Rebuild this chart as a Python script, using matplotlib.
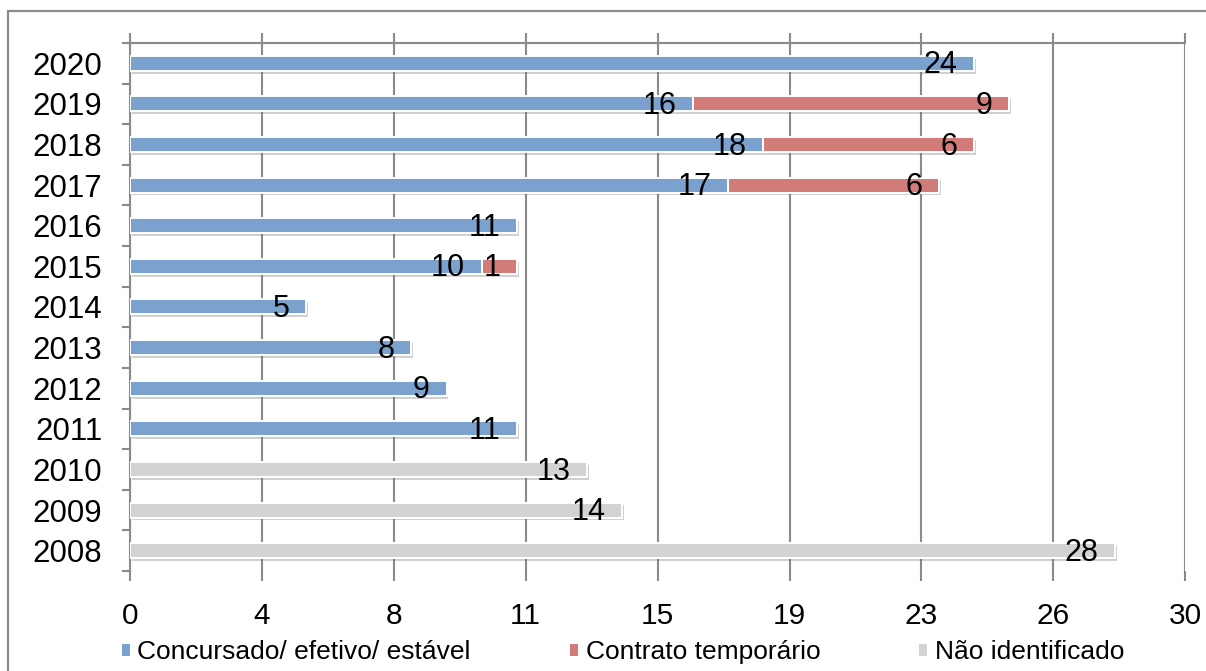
import matplotlib
matplotlib.use("Agg")
import matplotlib.pyplot as plt
import matplotlib.patheffects as pe
from matplotlib.patches import Rectangle, Patch
import numpy as np

plt.rcParams['font.family'] = ['Liberation Sans', 'DejaVu Sans']

years = ['2008', '2009', '2010', '2011', '2012', '2013', '2014',
         '2015', '2016', '2017', '2018', '2019', '2020']
concursado = [0, 0, 0, 11, 9, 8, 5, 10, 11, 17, 18, 16, 24]
temporario = [0, 0, 0, 0, 0, 0, 0, 1, 0, 6, 6, 9, 0]
nao_ident = [28, 14, 13, 0, 0, 0, 0, 0, 0, 0, 0, 0, 0]

series_names = ['Concursado/ efetivo/ estável', 'Contrato temporário', 'Não identificado']
colors = ['#7BA1CE', '#D27C79', '#D3D3D3']

xticks = [0, 3.75, 7.5, 11.25, 15, 18.75, 22.5, 26.25, 30]
xtick_labels = ['0', '4', '8', '11', '15', '19', '23', '26', '30']

grid_gray = '#8A8A8A'

fig = plt.figure(figsize=(12.06, 6.71), dpi=100)
ax = fig.add_axes([0.1078, 0.149, 0.875, 0.787])

# outer chart frame
fig.patches.append(Rectangle((0.0066, -0.01), 1.0, 0.9836 + 0.01,
                             transform=fig.transFigure, fill=False,
                             edgecolor='#8C8C8C', linewidth=1.6))

y = np.arange(len(years))
shadow = [pe.SimplePatchShadow(offset=(1.2, -2.0), shadow_rgbFace='#666666', alpha=0.3),
          pe.Normal()]

left = np.zeros(len(years))
for vals, color, name in zip([concursado, temporario, nao_ident], colors, series_names):
    vals = np.array(vals, dtype=float)
    bars = ax.barh(y, vals, left=left, height=0.37, color=color, edgecolor='white',
                   linewidth=1.4, zorder=3, label=name)
    for b, v in zip(bars, vals):
        if v > 0:
            b.set_path_effects(shadow)
            ax.annotate(f'{int(v)}', xy=(b.get_x() + b.get_width(), b.get_y() + b.get_height() / 2),
                        xytext=(-12, -1.5), textcoords='offset points',
                        ha='right', va='center', fontsize=22, color='black', zorder=5)
    left += vals

ax.set_xlim(0, 30)
ax.set_ylim(-0.5, len(years) - 0.5)

ax.set_xticks(xticks)
ax.set_xticklabels(xtick_labels, fontsize=21.5)
ax.tick_params(axis='x', which='major', bottom=True, top=True, direction='out',
               length=7, width=1.5, color=grid_gray, pad=15)
ax.xaxis.grid(True, color=grid_gray, linewidth=1.5, zorder=0)
ax.set_axisbelow(True)

ax.set_yticks(y)
ax.set_yticklabels(years, fontsize=22.5)
ax.set_yticks(np.arange(len(years) + 1) - 0.5, minor=True)
ax.tick_params(axis='y', which='major', length=0, pad=20)
ax.tick_params(axis='y', which='minor', left=True, direction='out', length=6,
               width=1.5, color=grid_gray)

for s in ['right', 'bottom']:
    ax.spines[s].set_visible(False)
for s in ['left', 'top']:
    ax.spines[s].set_color(grid_gray)
    ax.spines[s].set_linewidth(1.5)

handles = [Patch(facecolor=c, edgecolor='none') for c in colors]
fig.legend(handles, series_names, loc='center', bbox_to_anchor=(0.5166, 0.028),
           ncol=3, frameon=False, fontsize=19, handlelength=0.3, handleheight=0.3,
           handletextpad=0.3, columnspacing=3.75, borderaxespad=0)

fig.savefig('out.png', dpi=100)
